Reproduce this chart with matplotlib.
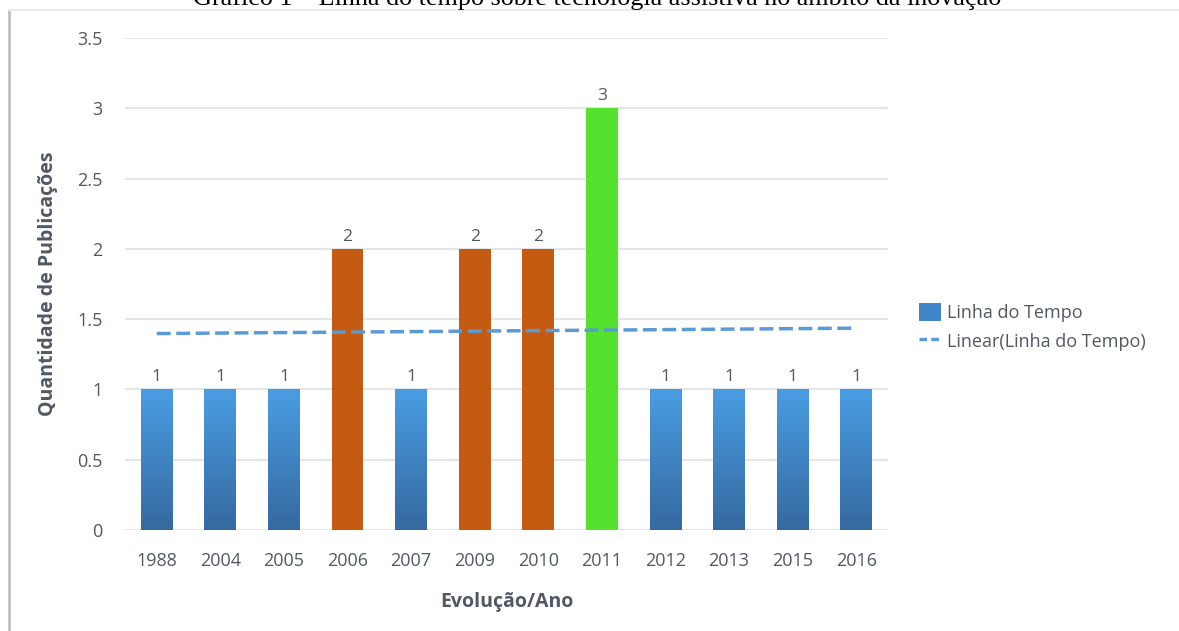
import numpy as np
import matplotlib.pyplot as plt
from matplotlib.lines import Line2D
from matplotlib.patches import Patch
from matplotlib.colors import LinearSegmentedColormap

# Dados do gráfico
anos = ['1988', '2004', '2005', '2006', '2007', '2009', '2010', '2011',
        '2012', '2013', '2015', '2016']
publicacoes = [1, 1, 1, 2, 1, 2, 2, 3, 1, 1, 1, 1]
cores = ['blue', 'blue', 'blue', 'orange', 'blue', 'orange', 'orange', 'green',
         'blue', 'blue', 'blue', 'blue']

corMap = {'orange': '#C55A11', 'green': '#55E22E'}
txtColor = '#505866'
gridColor = '#DDE1E6'

plt.rcParams['font.family'] = ['Open Sans', 'DejaVu Sans']

fig = plt.figure(figsize=(11.79, 6.31), dpi=100)
ax = fig.add_axes([125 / 1179, 1 - 530 / 631, (888 - 125) / 1179, (530 - 38) / 631])

x = np.arange(len(anos))
gradBlue = LinearSegmentedColormap.from_list('g', ['#3569A0', '#4A9DE3'])
grad = np.linspace(0, 1, 256).reshape(-1, 1)

for i, (v, c) in enumerate(zip(publicacoes, cores)):
    if c == 'blue':
        bar = ax.bar(i, v, width=0.5, color='none', edgecolor='none', zorder=3)[0]
        im = ax.imshow(grad, cmap=gradBlue, origin='lower', aspect='auto',
                       extent=[i - 0.25, i + 0.25, 0, v], zorder=3)
        im.set_clip_path(bar)
    else:
        ax.bar(i, v, width=0.5, color=corMap[c], zorder=3)
    ax.text(i, v + 0.03, str(v), ha='center', va='bottom', fontsize=12.5, color=txtColor)

# Linha de tendência linear (Excel)
coef = np.polyfit(x, publicacoes, 1)
ax.plot(x, np.polyval(coef, x), color='#5B9BD5', lw=2.5, dashes=(4, 1.6), zorder=4)

ax.set_xlim(-0.5, len(anos) - 0.5)
ax.set_ylim(0, 3.5)
ax.set_yticks(np.arange(0, 3.51, 0.5))
ax.set_yticklabels(['0', '0.5', '1', '1.5', '2', '2.5', '3', '3.5'])
ax.set_xticks(x)
ax.set_xticklabels(anos)
ax.grid(axis='y', color=gridColor, lw=1.2, zorder=0)
ax.tick_params(length=0, labelsize=13, colors=txtColor)
ax.tick_params(axis='y', pad=16)
ax.tick_params(axis='x', pad=16)
for s in ax.spines.values():
    s.set_visible(False)

ax.set_xlabel('Evolução/Ano', fontsize=14, fontweight='bold', color=txtColor, labelpad=16)
ax.set_ylabel('Quantidade de Publicações', fontsize=14, fontweight='bold', color=txtColor,
              labelpad=14)

handles = [Patch(facecolor='#3F86C8', edgecolor='none'),
           Line2D([0], [0], color='#5B9BD5', lw=2.5, dashes=(2.2, 1.2))]
fig.legend(handles, ['Linha do Tempo', 'Linear(Linha do Tempo)'],
           loc='center left', bbox_to_anchor=(903 / 1179, 1 - 327 / 631),
           frameon=False, fontsize=13, labelcolor=txtColor,
           handlelength=1.2, handleheight=1.1, handletextpad=0.35, labelspacing=0.55)

# Moldura e título (cortado no topo)
fig.add_artist(Line2D([9 / 1179, 9 / 1179], [0, 1 - 10 / 631], color='#BFBFBF', lw=2))
fig.add_artist(Line2D([9 / 1179, 1], [1 - 10 / 631, 1 - 10 / 631], color='#EBEBEB', lw=1.5))
fig.text(597 / 1179, 1 - 5 / 631,
         'Gráfico 1 – Linha do tempo sobre tecnologia assistiva no âmbito da inovação',
         ha='center', va='baseline', fontsize=18.8, family='Liberation Serif', color='black')

fig.savefig('out.png', dpi=100)
